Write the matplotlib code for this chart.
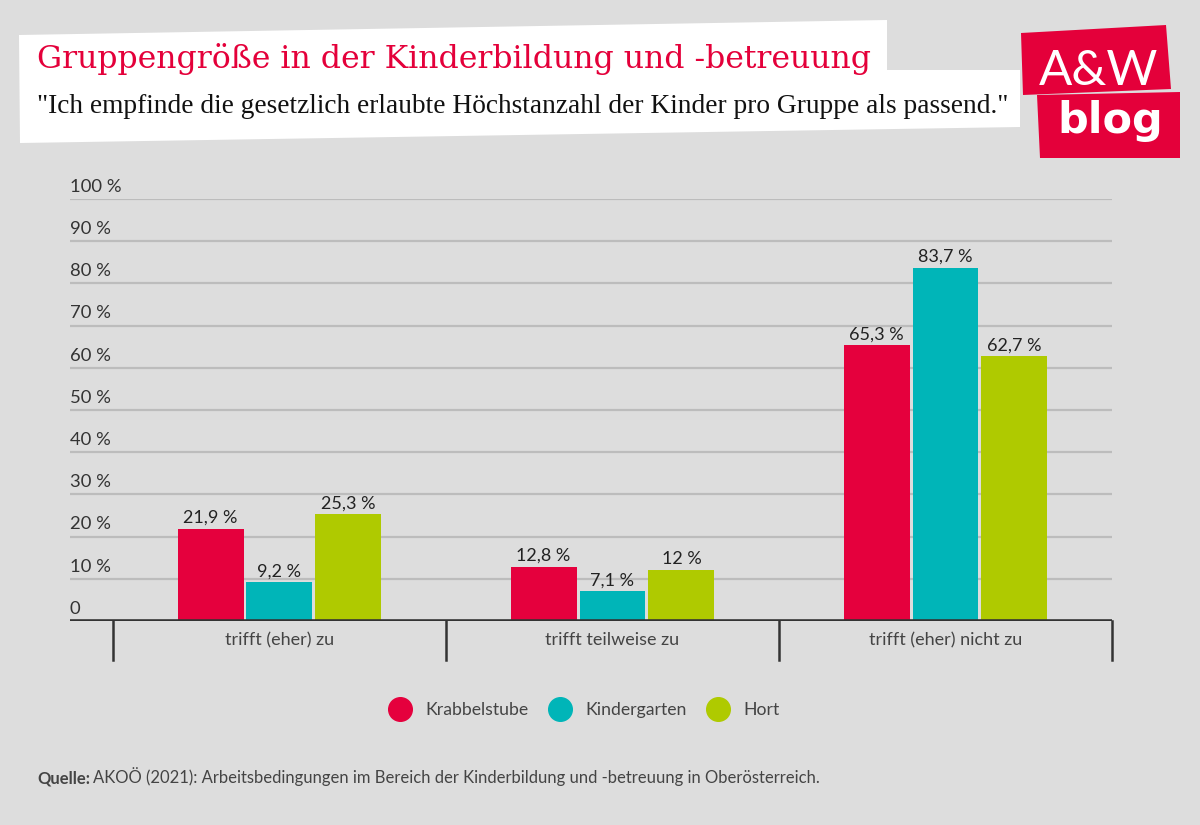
import matplotlib.pyplot as plt
from matplotlib.patches import Polygon
from matplotlib.lines import Line2D

plt.rcParams['font.family'] = ['Lato', 'DejaVu Sans']

title = 'Gruppengröße in der Kinderbildung und -betreuung'
subtitle = '"Ich empfinde die gesetzlich erlaubte Höchstanzahl der Kinder pro Gruppe als passend."'
categories = ['trifft (eher) zu', 'trifft teilweise zu', 'trifft (eher) nicht zu']
series = ['Krabbelstube', 'Kindergarten', 'Hort']
krabbelstube = [21.9, 12.8, 65.3]
kindergarten = [9.2, 7.1, 83.7]
hort = [25.3, 12, 62.7]
yticks = [0, 10, 20, 30, 40, 50, 60, 70, 80, 90, 100]
colors = ['#e5003d', '#00b5b8', '#afca00']
source = 'AKOÖ (2021): Arbeitsbedingungen im Bereich der Kinderbildung und -betreuung in Oberösterreich.'

W, H = 1200, 825
bg = '#dddddd'
fig = plt.figure(figsize=(12, 8.25), dpi=100, facecolor=bg)


def px(x, y):
    return (x / W, 1 - y / H)


# white title box (slightly tilted)
box = [px(19, 35), px(887, 20), px(887, 70), px(1020, 70), px(1020, 127), px(20, 143)]
fig.add_artist(Polygon(box, closed=True, transform=fig.transFigure,
                       facecolor='white', edgecolor='none'))
fig.text(*px(37, 68), title, family='DejaVu Serif', size=22.7, color='#e4003a', va='baseline')
fig.text(*px(37, 113), subtitle, family='Liberation Serif', size=19.7, color='#111111', va='baseline')

# logo
logo_red = '#e4003a'
fig.add_artist(Polygon([px(1021, 33), px(1166, 25), px(1171, 89), px(1023, 95)],
                       transform=fig.transFigure, facecolor=logo_red, edgecolor='none'))
fig.add_artist(Polygon([px(1037, 95), px(1180, 92), px(1180, 158), px(1040, 158)],
                       transform=fig.transFigure, facecolor=logo_red, edgecolor='none'))
fig.text(*px(1099, 85), 'A&W', ha='center', va='baseline', color='white', size=35.5, weight='normal')
fig.text(*px(1110, 133), 'blog', ha='center', va='baseline', color='white', size=31,
         family='DejaVu Sans', weight='bold')

# chart
ax = fig.add_axes([70 / W, 1 - 621 / H, (1112 - 70) / W, (621 - 199) / H])
ax.set_facecolor(bg)
ax.set_xlim(-0.629, 2.5)
ax.set_ylim(0, 100)
for s in ax.spines.values():
    s.set_visible(False)
ax.set_yticks([])

for v in yticks[1:]:
    ax.axhline(v, color='#bcbcbc', lw=1.6, zorder=0)
for v in yticks:
    ax.text(-0.629, v + 1.7, f'{v} %' if v else '0', ha='left', va='baseline',
            fontsize=13.3, color='#333333')

w, step = 0.198, 0.207
for i, (vals, c) in enumerate(zip([krabbelstube, kindergarten, hort], colors)):
    xs = [k + (i - 1) * step for k in range(len(categories))]
    ax.bar(xs, vals, width=w, color=c, zorder=2)
    for x, v in zip(xs, vals):
        lab = f'{v:g}'.replace('.', ',') + ' %'
        ax.text(x, v + 1.4, lab, ha='center', va='baseline', fontsize=13, color='#222222')

ax.axhline(0, color='#333333', lw=2.6, zorder=3)
for x in [-0.5, 0.5, 1.5, 2.5]:
    ax.plot([x, x], [0, -9.2], color='#333333', lw=1.8, clip_on=False)

ax.set_xticks(range(len(categories)), categories)
ax.tick_params(axis='x', length=0, pad=8, labelsize=13, labelcolor='#444444')

handles = [Line2D([], [], marker='o', ls='', markersize=17, color=c) for c in colors]
fig.legend(handles, series, loc='center', bbox_to_anchor=px(581, 710), ncol=3,
           frameon=False, fontsize=12.7, handletextpad=0.45, columnspacing=0.75,
           labelcolor='#444444')

# footer
q = fig.text(*px(37, 783), 'Quelle:', fontsize=12, weight='bold', color='#444444', va='baseline')
fig.canvas.draw()
bb = q.get_window_extent()
fig.text(bb.x1 / W + 3 / W, 1 - 783 / H, source, fontsize=12, color='#444444', va='baseline')

fig.savefig('out.png', dpi=100, facecolor=bg)
